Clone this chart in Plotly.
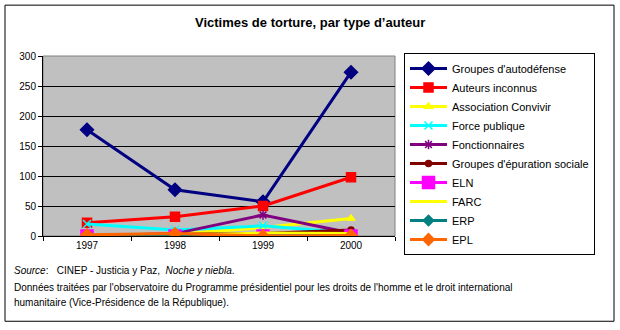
import plotly.graph_objects as go

# Years on the category axis
years = ["1997", "1998", "1999", "2000"]

# Victims of torture by type of perpetrator
autodefense = [177, 77, 57, 273]
inconnus = [22, 32, 50, 98]
convivir = [0, 3, 14, 29]
force_publique = [20, 10, 17, 5]
fonctionnaires = [0, 4, 35, 5]
epuration = [0, 3, 4, 10]
eln = [0, 0, 0, 0]
farc = [0, 1, 5, 4]
erp = [0, 1, 0, 1]
epl = [2, 4, 0, 1]

y_ticks = [0, 50, 100, 150, 200, 250, 300]

series = [
    ("Groupes d'autodéfense", autodefense, "#000080", "diamond", 10),
    ("Auteurs inconnus", inconnus, "#FF0000", "square", 9),
    ("Association Convivir", convivir, "#FFFF00", "triangle-up", 7),
    ("Force publique", force_publique, "#00FFFF", "x-thin-open", 8),
    ("Fonctionnaires", fonctionnaires, "#800080", "asterisk-open", 8),
    ("Groupes d'épuration sociale", epuration, "#800000", "circle", 6),
    ("ELN", eln, "#FF00FF", "square", 12),
    ("FARC", farc, "#FFFF00", None, 0),
    ("ERP", erp, "#008080", "diamond", 8),
    ("EPL", epl, "#FF6600", "diamond", 9),
]

x_pos = list(range(len(years)))

fig = go.Figure()
for name, vals, color, sym, size in series:
    mode = "lines+markers" if sym else "lines"
    marker = dict(color=color, size=size, symbol=sym,
                  line=dict(color=color, width=1.5)) if sym else None
    fig.add_trace(go.Scatter(
        x=x_pos, y=vals, name=name, mode=mode,
        line=dict(color=color, width=3),
        marker=marker,
    ))

font_family = "Arial, Liberation Sans, sans-serif"

# Paper-coordinate helpers: plot area spans 43..395 px wide, 56..236.5 px tall
L, R, T, B = 43, 395, 56, 236.5
def px_x(px):
    return (px - L) / (R - L)
def px_y(py):
    return (B - py) / (B - T)

fig.update_layout(
    width=620, height=330,
    margin=dict(l=L, r=620 - R, t=T, b=330 - B),
    paper_bgcolor="white",
    plot_bgcolor="#C0C0C0",
    font=dict(family=font_family, size=10, color="black"),
    showlegend=True,
    legend=dict(
        x=px_x(404), y=px_y(53), xanchor="left", yanchor="top",
        bgcolor="white", bordercolor="black", borderwidth=1,
        font=dict(size=11, family=font_family),
        itemwidth=37, tracegroupgap=0, maxheight=320,
    ),
    xaxis=dict(
        range=[-0.5, 3.5], tickmode="array", tickvals=x_pos, ticktext=years,
        ticks="", showgrid=False, zeroline=False,
        showline=True, linecolor="black", linewidth=1,
        minor=dict(tick0=0.5, dtick=1, ticks="outside", ticklen=4,
                   tickcolor="black", showgrid=False),
        tickfont=dict(size=10),
    ),
    yaxis=dict(
        range=[0, 300], tickmode="array", tickvals=y_ticks,
        ticks="outside", ticklen=4, tickcolor="black",
        showgrid=True, gridcolor="black", gridwidth=1,
        zeroline=False, showline=True, linecolor="black", linewidth=1,
        tickfont=dict(size=10),
    ),
)

# Plot-area border in grey
fig.add_shape(type="rect", xref="paper", yref="paper", x0=0, x1=1, y0=0, y1=1,
              line=dict(color="#808080", width=1), layer="below")

# Outer frame of the chart
fig.add_shape(type="rect", xref="paper", yref="paper",
              x0=px_x(5), x1=px_x(614), y0=px_y(322), y1=px_y(5),
              line=dict(color="black", width=1))

fig.add_annotation(
    text="<b>Victimes de torture, par type d’auteur</b>",
    xref="paper", yref="paper", x=px_x(310), y=px_y(22),
    xanchor="center", yanchor="middle", showarrow=False,
    font=dict(size=13, family=font_family),
)

notes = [
    ("<i>Source</i>:   CINEP - Justicia y Paz,  <i>Noche y niebla</i>.", 271),
    ("Données traitées par l'observatoire du Programme présidentiel pour les droits de l'homme et le droit international", 288),
    ("humanitaire (Vice-Présidence de la République).", 303),
]
for txt, py in notes:
    fig.add_annotation(text=txt, xref="paper", yref="paper",
                       x=px_x(12), y=px_y(py), xanchor="left", yanchor="middle",
                       showarrow=False, font=dict(size=10, family=font_family))

fig.write_html("out.html")
